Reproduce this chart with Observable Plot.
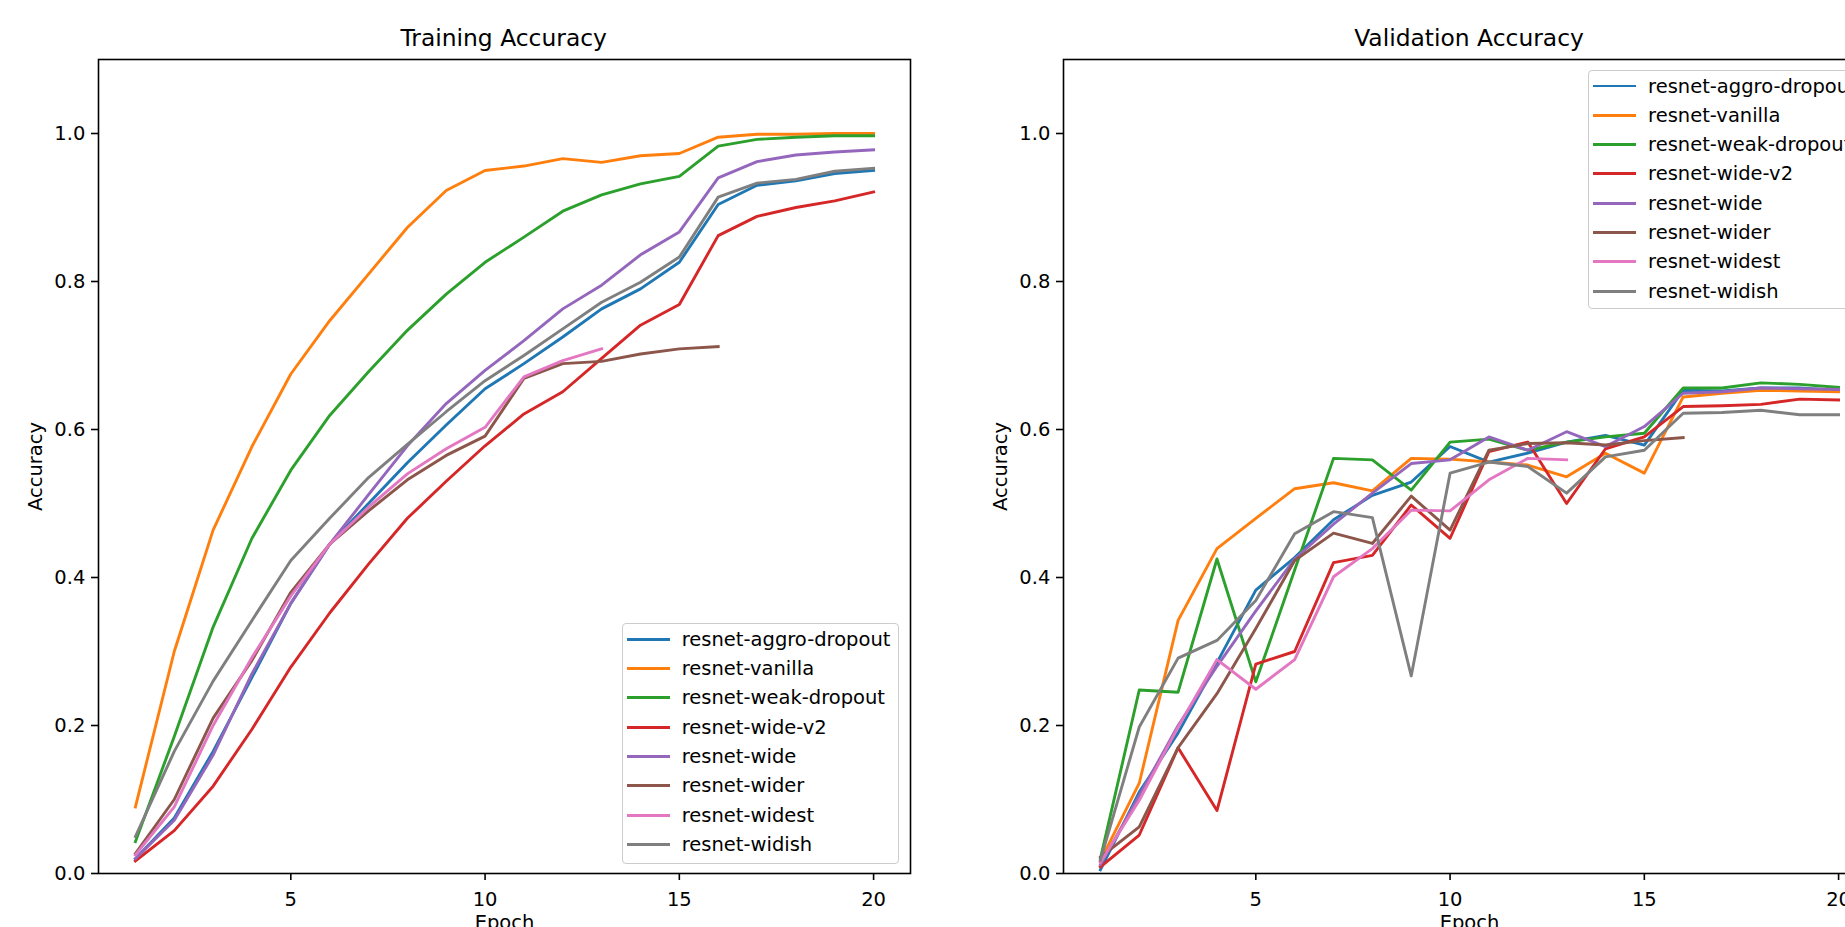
<!DOCTYPE html>
<html>
<head>
<meta charset="utf-8">
<script src="https://cdn.jsdelivr.net/npm/d3@7"></script>
<script src="https://cdn.jsdelivr.net/npm/@observablehq/plot@0.6"></script>
<style>
  html, body { margin: 0; padding: 0; background: #fff; }
  #page { position: relative; width: 1845px; height: 927px; overflow: hidden; background: #fff; font-family: "DejaVu Sans", sans-serif; }
  .panel { position: absolute; top: 0; width: 930px; height: 943px; }
  .panel svg { max-width: none !important; }
  .title { position: absolute; font-size: 23.4px; line-height: 23.4px; color: #000; white-space: nowrap; transform: translateX(-50%); }
  .legend { position: absolute; box-sizing: border-box; border: 1.2px solid #cccccc; border-radius: 4px; background: rgba(255,255,255,0.8); padding-top: 0.4px; }
  .legend .row { display: flex; align-items: center; height: 29.3px; font-size: 19.5px; white-space: nowrap; color: #000; }
  .legend .swatch { width: 42.7px; height: 2.9px; margin-left: 4.4px; margin-right: 12px; flex: none; }
</style>
</head>
<body>
<div id="page"></div>
<script>
// ---- data ----
const epochs = [1,2,3,4,5,6,7,8,9,10,11,12,13,14,15,16,17,18,19,20];
const seriesNames = ["resnet-aggro-dropout","resnet-vanilla","resnet-weak-dropout","resnet-wide-v2","resnet-wide","resnet-wider","resnet-widest","resnet-widish"];
const seriesColors = ["#1f77b4","#ff7f0e","#2ca02c","#d62728","#9467bd","#8c564b","#e377c2","#7f7f7f"];
const yTicks = [0.0,0.2,0.4,0.6,0.8,1.0];
const xTicks = [5,10,15,20];
const panelTitles = ["Training Accuracy","Validation Accuracy"];

// Training accuracy
const trainAggroDropout = [0.020,0.075,0.165,0.265,0.365,0.445,0.500,0.555,0.606,0.655,0.689,0.725,0.763,0.790,0.826,0.904,0.930,0.936,0.946,0.950];
const trainVanilla      = [0.090,0.300,0.464,0.577,0.675,0.747,0.810,0.873,0.923,0.950,0.956,0.966,0.961,0.970,0.973,0.995,0.999,0.999,1.000,1.000];
const trainWeakDropout  = [0.043,0.185,0.333,0.453,0.545,0.619,0.678,0.734,0.783,0.826,0.860,0.895,0.917,0.932,0.942,0.983,0.992,0.995,0.997,0.997];
const trainWideV2       = [0.017,0.058,0.118,0.195,0.279,0.352,0.418,0.480,0.530,0.578,0.621,0.651,0.696,0.741,0.769,0.862,0.888,0.900,0.909,0.921];
const trainWide         = [0.020,0.072,0.160,0.270,0.365,0.445,0.512,0.578,0.635,0.680,0.720,0.763,0.795,0.836,0.867,0.940,0.962,0.971,0.975,0.978];
const trainWider        = [0.027,0.100,0.210,0.288,0.380,0.445,0.490,0.532,0.565,0.591,0.669,0.689,0.692,0.702,0.709,0.712];
const trainWidest       = [0.025,0.090,0.200,0.292,0.375,0.445,0.495,0.540,0.574,0.603,0.671,0.693,0.709];
const trainWidish       = [0.050,0.165,0.260,0.342,0.423,0.480,0.535,0.580,0.624,0.666,0.700,0.736,0.772,0.799,0.833,0.914,0.933,0.938,0.949,0.953];

// Validation accuracy
const valAggroDropout = [0.005,0.110,0.190,0.285,0.383,0.427,0.478,0.511,0.529,0.577,0.556,0.568,0.583,0.592,0.579,0.653,0.652,0.656,0.656,0.653];
const valVanilla      = [0.017,0.122,0.342,0.439,0.480,0.520,0.528,0.517,0.561,0.560,0.556,0.552,0.536,0.568,0.541,0.644,0.649,0.653,0.652,0.651];
const valWeakDropout  = [0.020,0.248,0.245,0.425,0.259,0.410,0.561,0.559,0.518,0.583,0.587,0.572,0.583,0.590,0.595,0.656,0.656,0.663,0.661,0.657];
const valWideV2       = [0.009,0.052,0.170,0.085,0.283,0.300,0.420,0.430,0.498,0.453,0.570,0.583,0.500,0.574,0.590,0.631,0.632,0.634,0.641,0.640];
const valWide         = [0.012,0.105,0.200,0.280,0.355,0.425,0.472,0.514,0.554,0.559,0.590,0.572,0.597,0.577,0.604,0.649,0.651,0.656,0.655,0.654];
const valWider        = [0.022,0.063,0.170,0.243,0.331,0.423,0.460,0.446,0.510,0.464,0.572,0.581,0.582,0.579,0.585,0.589];
const valWidest       = [0.015,0.099,0.198,0.289,0.249,0.289,0.401,0.439,0.491,0.490,0.532,0.561,0.559];
const valWidish       = [0.018,0.198,0.291,0.315,0.369,0.459,0.489,0.481,0.267,0.541,0.556,0.550,0.514,0.563,0.572,0.622,0.623,0.626,0.620,0.620];

const trainSeries = [trainAggroDropout,trainVanilla,trainWeakDropout,trainWideV2,trainWide,trainWider,trainWidest,trainWidish];
const valSeries   = [valAggroDropout,valVanilla,valWeakDropout,valWideV2,valWide,valWider,valWidest,valWidish];

function tidy(seriesList) {
  const rows = [];
  seriesList.forEach((vals, i) => vals.forEach((v, j) => rows.push({series: seriesNames[i], epoch: epochs[j], acc: v})));
  return rows;
}

const FONT = "DejaVu Sans";
const FS = 19.5;
function makePanel(rows) {
  return Plot.plot({
    width: 930, height: 943,
    marginLeft: 98, marginRight: 20, marginTop: 59, marginBottom: 70,
    style: {fontFamily: FONT, fontSize: FS + "px", color: "#000", background: "transparent", overflow: "visible"},
    x: {domain: [0.05, 20.95]},
    y: {domain: [0, 1.1]},
    color: {domain: seriesNames, range: seriesColors},
    marks: [
      Plot.axisX({ticks: xTicks, tickSize: 7, tickPadding: 11.4, strokeWidth: 1.6, label: null, fontSize: FS}),
      Plot.axisY({ticks: yTicks, tickFormat: d3.format(".1f"), tickSize: 7, tickPadding: 6.2, strokeWidth: 1.6, label: null, fontSize: FS}),
      Plot.line(rows, {x: "epoch", y: "acc", z: "series", stroke: "series", strokeWidth: 2.9, strokeLinejoin: "round", strokeLinecap: "square"}),
      Plot.frame({stroke: "#000", strokeWidth: 1.6}),
      Plot.text(["Epoch"], {frameAnchor: "bottom", dy: 41.7, lineAnchor: "top", fontSize: FS, fill: "#000"}),
      Plot.text(["Accuracy"], {frameAnchor: "left", dx: -62.5, rotate: -90, lineAnchor: "middle", textAnchor: "middle", fontSize: FS, fill: "#000"})
    ]
  });
}

const page = document.getElementById("page");
const panelLefts = [0, 965];
[trainSeries, valSeries].forEach((s, k) => {
  const wrap = document.createElement("div");
  wrap.className = "panel";
  wrap.style.left = panelLefts[k] + "px";
  wrap.appendChild(makePanel(tidy(s)));
  page.appendChild(wrap);
});

// titles
const titleCenters = [503.7, 1469];
panelTitles.forEach((t, k) => {
  const d = document.createElement("div");
  d.className = "title";
  d.textContent = t;
  d.style.left = titleCenters[k] + "px";
  d.style.top = "26.8px";
  page.appendChild(d);
});

// legends
const legendBoxes = [{left: 621.7, top: 623.3, width: 277.6, height: 241}, {left: 1588, top: 70, width: 277.6, height: 239}];
legendBoxes.forEach(b => {
  const lg = document.createElement("div");
  lg.className = "legend";
  Object.assign(lg.style, {left: b.left + "px", top: b.top + "px", width: b.width + "px", height: b.height + "px"});
  seriesNames.forEach((n, i) => {
    const row = document.createElement("div");
    row.className = "row";
    const sw = document.createElement("div");
    sw.className = "swatch";
    sw.style.background = seriesColors[i];
    const tx = document.createElement("span");
    tx.textContent = n;
    row.appendChild(sw); row.appendChild(tx);
    lg.appendChild(row);
  });
  page.appendChild(lg);
});
</script>
</body>
</html>
